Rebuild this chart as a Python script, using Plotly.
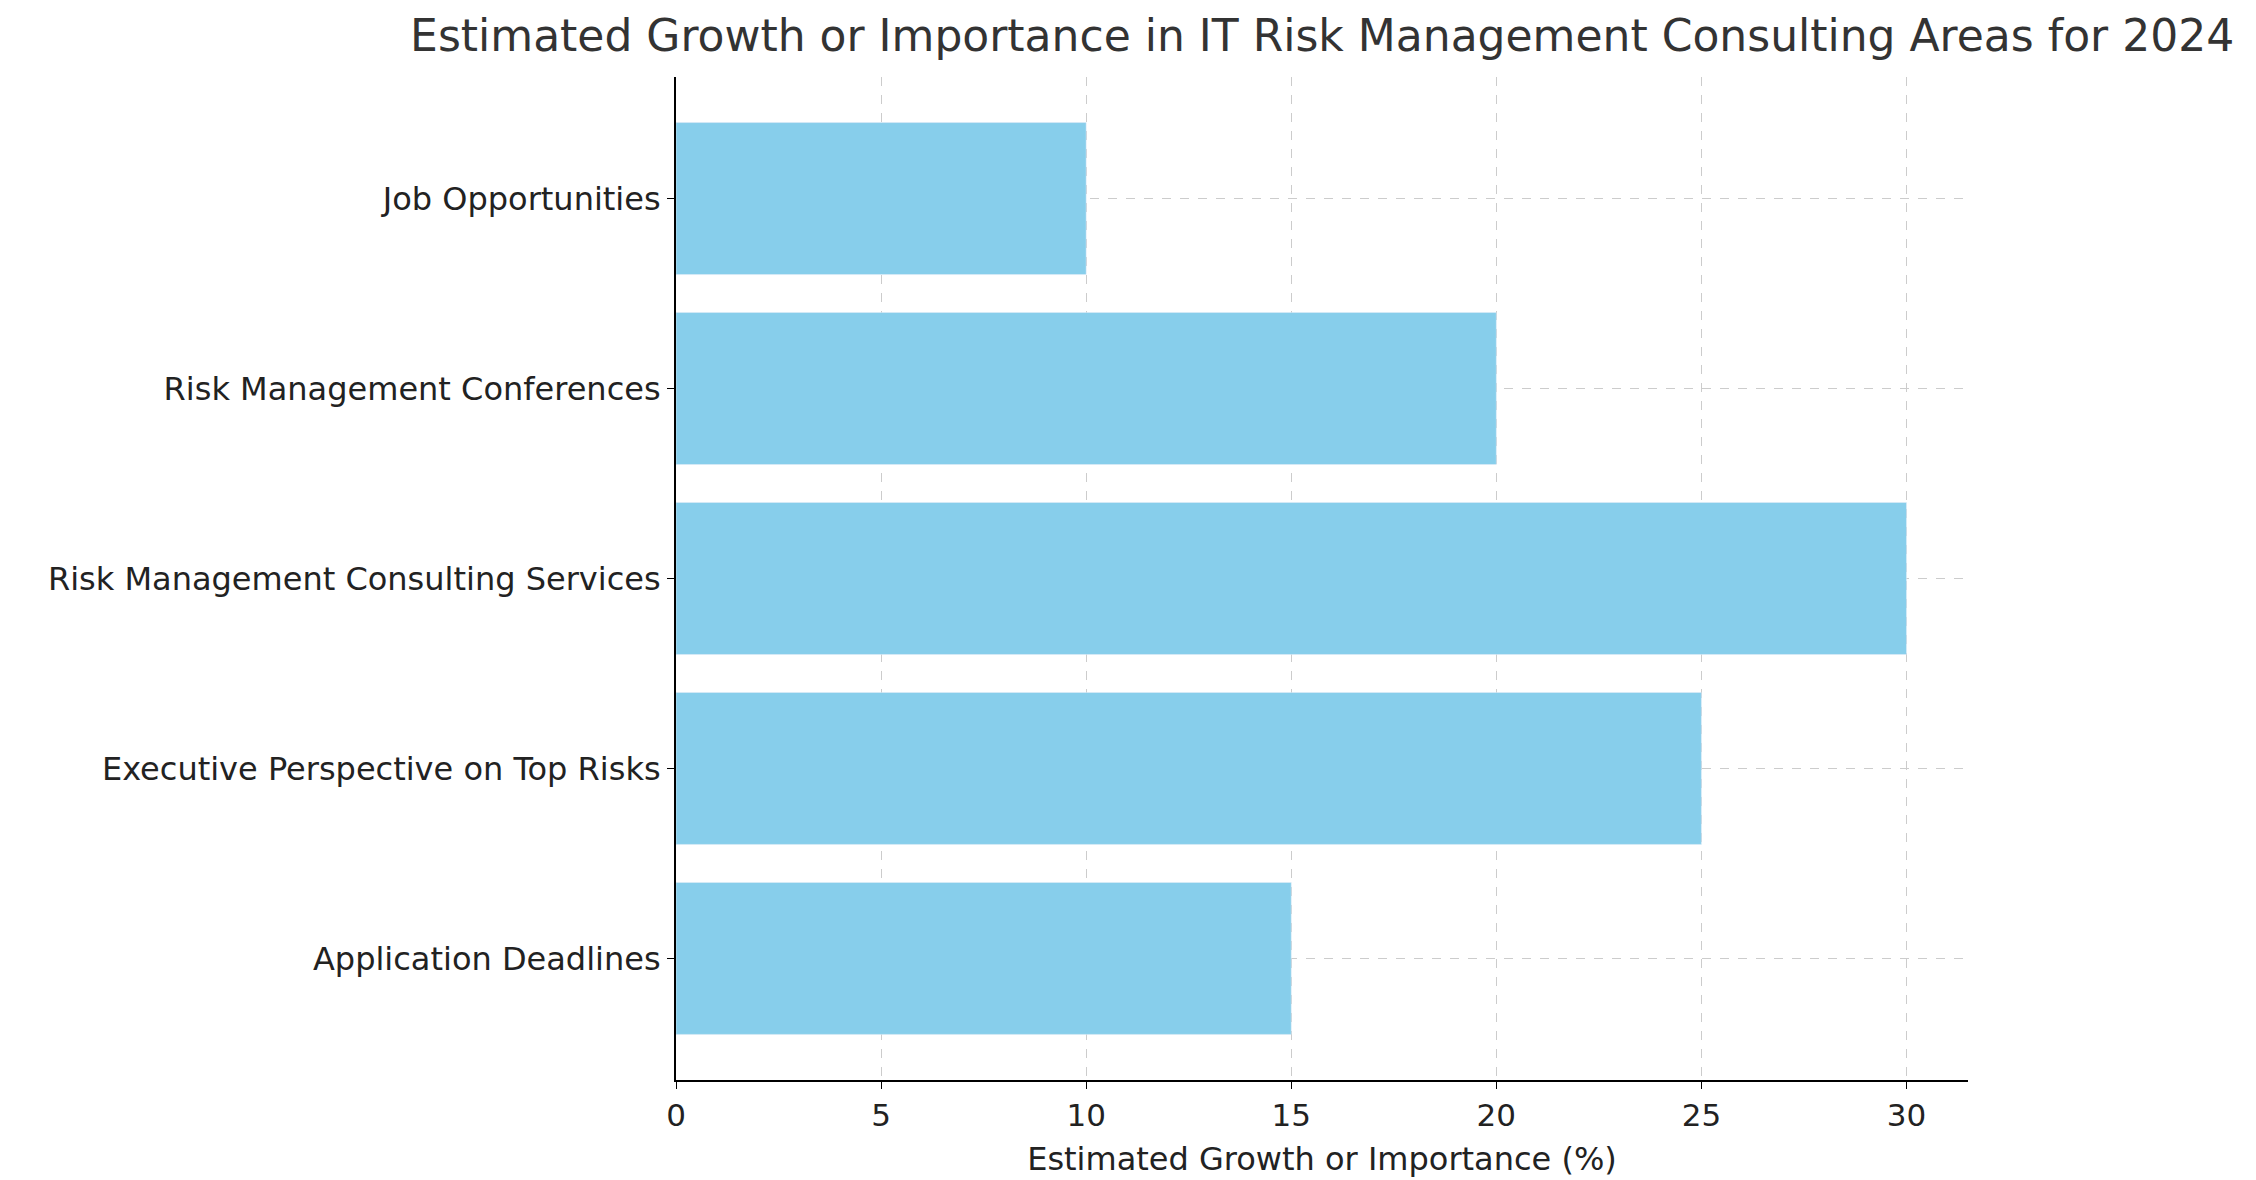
import plotly.graph_objects as go

categories = ["Application Deadlines", "Executive Perspective on Top Risks",
              "Risk Management Consulting Services", "Risk Management Conferences",
              "Job Opportunities"]
values = [15, 25, 30, 20, 10]

fig = go.Figure(go.Bar(x=values, y=categories, orientation="h",
                       marker_color="#87CEEB", width=0.8))

fig.update_layout(
    width=2256, height=1180,
    paper_bgcolor="white", plot_bgcolor="white",
    margin=dict(l=668, r=296, t=69, b=108),
    font=dict(family="DejaVu Sans", color="#222222", size=31),
    title=dict(text="Estimated Growth or Importance in IT Risk Management Consulting Areas for 2024",
               x=0.5825, xanchor="center", y=0.99, yanchor="top",
               font=dict(size=44, color="#333333")),
    showlegend=False,
)
fig.update_xaxes(range=[0, 31.5], tickvals=[0, 5, 10, 15, 20, 25, 30],
                 showline=True, linecolor="black", linewidth=2,
                 ticks="outside", ticklen=7, tickcolor="black",
                 showgrid=True, gridcolor="#cccccc", griddash="dash", gridwidth=1,
                 zeroline=False, tickfont=dict(size=31),
                 title=dict(text="Estimated Growth or Importance (%)", font=dict(size=32)))
fig.update_yaxes(range=[-0.64, 4.64], showline=True, linecolor="black", linewidth=2,
                 ticks="outside", ticklen=7, tickcolor="black",
                 showgrid=True, gridcolor="#cccccc", griddash="dash", gridwidth=1,
                 tickfont=dict(size=32))

fig.write_html("out.html")
